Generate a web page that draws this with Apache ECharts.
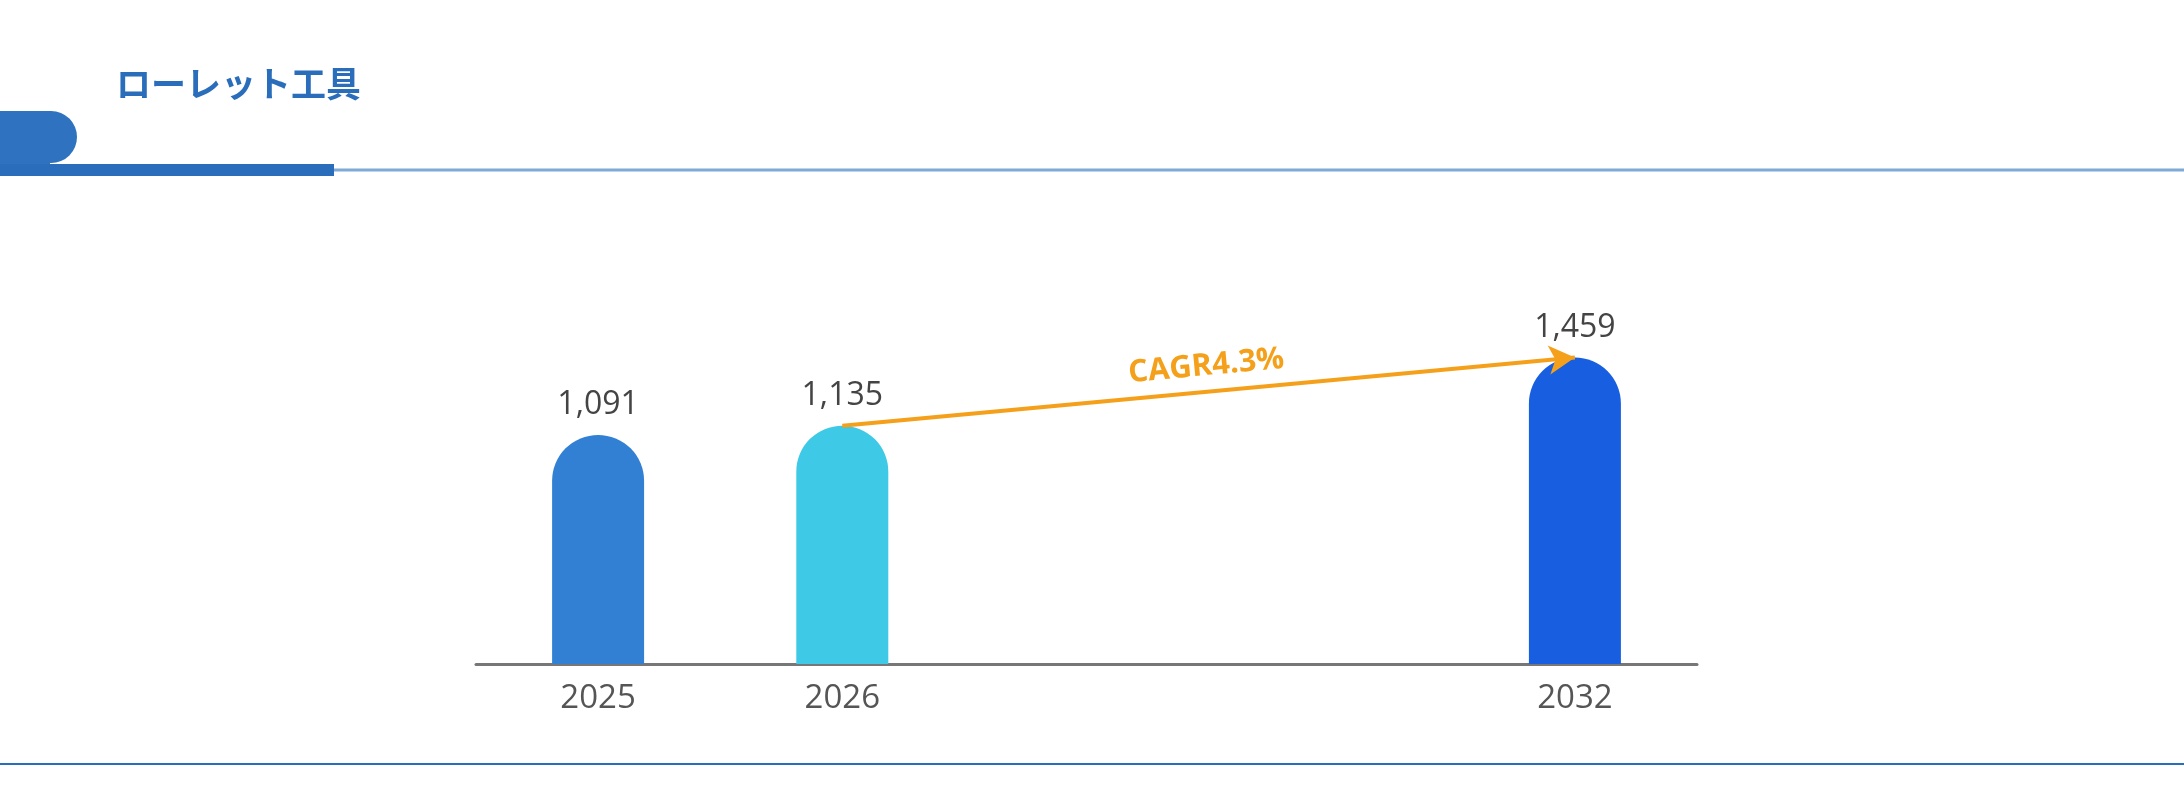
<!DOCTYPE html>
<html>
<head>
<meta charset="utf-8">
<title>ローレット工具</title>
<script src="https://cdn.jsdelivr.net/npm/echarts@6/dist/echarts.min.js"></script>
<style>
    html, body { margin: 0; padding: 0; background: #fff; }
    #chart { width: 2184px; height: 791px; }
</style>
</head>
<body>
<div id="chart"></div>
<script>
    var title = 'ローレット工具';
    var years = ['2025', '2026', '', '', '2032'];
    var values = [1091, 1135, null, null, 1459];
    var barColors = ['#3280d4', '#3ec9e6', '#fff', '#fff', '#175ee0'];
    var cagrLabel = 'CAGR4.3%';

    var chart = echarts.init(document.getElementById('chart'));
    chart.setOption({
        animation: false,
        graphic: [
            { type: 'text', left: 116, top: 66, style: { text: title, fill: '#2a6ebb', font: 'bold 35px "Noto Sans CJK JP"' } },
            { type: 'rect', shape: { x: -40, y: 111, width: 117, height: 52, r: 26 }, style: { fill: '#2f72c0' } },
            { type: 'rect', shape: { x: 0, y: 150, width: 50, height: 25 }, style: { fill: '#2f72c0' } },
            { type: 'line', shape: { x1: 0, y1: 170, x2: 2184, y2: 170 }, style: { stroke: '#7ea9d8', lineWidth: 3 } },
            { type: 'rect', shape: { x: 0, y: 164, width: 334, height: 12 }, style: { fill: '#2a6ebb' } },
            { type: 'line', shape: { x1: 0, y1: 764, x2: 2184, y2: 764 }, style: { stroke: '#2a6ebb', lineWidth: 2 } }
        ],
        grid: { left: 476, right: 487, top: 328, bottom: 127 },
        xAxis: {
            type: 'category',
            data: years,
            axisLine: { lineStyle: { color: '#777', width: 3 } },
            axisTick: { show: false },
            axisLabel: { color: '#555', fontSize: 33, margin: 18, fontFamily: 'Open Sans' }
        },
        yAxis: { type: 'value', min: 0, max: 1600, show: false },
        series: [{
            type: 'bar',
            barWidth: 92,
            data: values.map(function (v, i) {
                return { value: v, itemStyle: { color: barColors[i], borderRadius: [46, 46, 0, 0] } };
            }),
            label: {
                show: true, position: 'top', distance: 14, color: '#444', fontSize: 32, fontFamily: 'Open Sans',
                formatter: function (p) { return p.value == null ? '' : p.value.toLocaleString('en-US'); }
            },
            markLine: {
                silent: true,
                symbol: ['none', 'arrow'],
                symbolSize: [22, 26],
                lineStyle: { color: '#f5a01a', width: 4, type: 'solid' },
                label: {
                    show: true, position: 'middle', formatter: cagrLabel, color: '#f5a01a',
                    fontSize: 31, fontWeight: 'bold', fontFamily: 'Open Sans', distance: 10
                },
                data: [[{ coord: [1, values[1]] }, { coord: [4, values[4]] }]]
            }
        }]
    });
</script>
</body>
</html>
